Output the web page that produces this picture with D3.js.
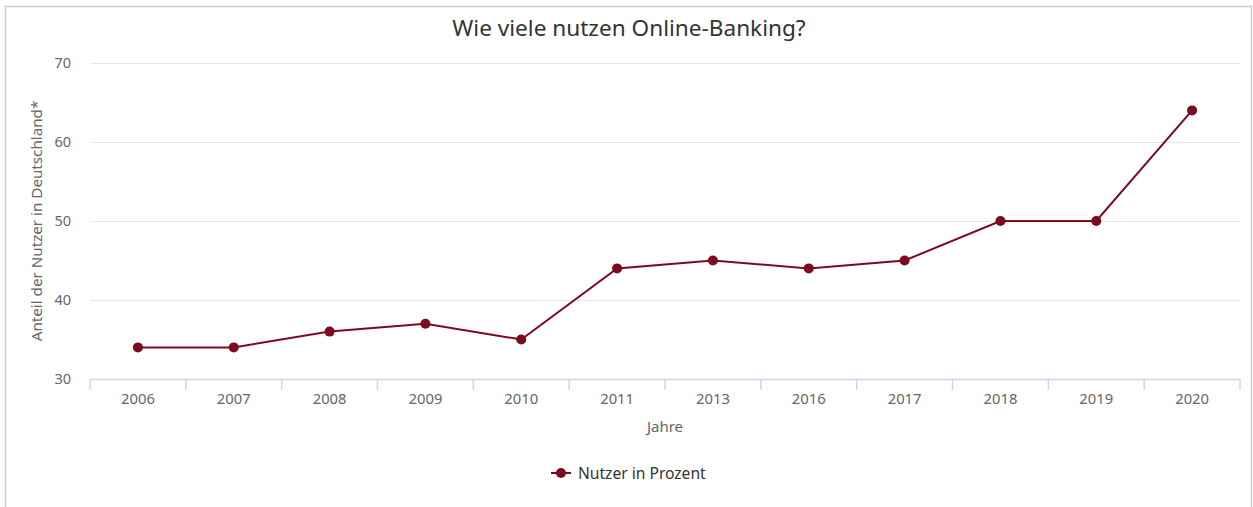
<!DOCTYPE html>
<html><head><meta charset="utf-8">
<script src="https://cdn.jsdelivr.net/npm/d3@7"></script>
<style>
html,body{margin:0;padding:0;background:#fff;}
text{font-family:"Noto Sans","Open Sans",sans-serif;}
</style></head>
<body><div id="chart"></div>
<script>
const categories = ["2006","2007","2008","2009","2010","2011","2013","2016","2017","2018","2019","2020"];
const values = [34,34,36,37,35,44,45,44,45,50,50,64];
const yTicks = [30,40,50,60,70];
const title = "Wie viele nutzen Online-Banking?";
const seriesName = "Nutzer in Prozent";
const xTitle = "Jahre";
const yTitle = "Anteil der Nutzer in Deutschland*";

const W = 1253, H = 507;
const color = "#7d0a1e";
const svg = d3.select("#chart").append("svg").attr("width", W).attr("height", H);

svg.append("rect").attr("x",5.5).attr("y",6.5).attr("width",1246).attr("height",H+10)
  .attr("fill","#fff").attr("stroke","#cccccc").attr("stroke-width",1.5);

const m = {left:90, right:1240, top:63, bottom:379};
const x = d3.scaleBand().domain(categories).range([m.left, m.right]);
const y = d3.scaleLinear().domain([30,70]).range([m.bottom, m.top]);

svg.append("text").attr("x",629).attr("y",36).attr("text-anchor","middle")
  .attr("font-size",22.6).attr("fill","#333").text(title);

// grid
svg.append("g").selectAll("line").data(yTicks.filter(d=>d>30)).join("line")
  .attr("x1",m.left).attr("x2",m.right)
  .attr("y1",d=>Math.round(y(d))+0.5).attr("y2",d=>Math.round(y(d))+0.5)
  .attr("stroke","#e6e6e6").attr("stroke-width",1);

// y axis
const yAxis = d3.axisLeft(y).tickValues(yTicks).tickSize(0).tickPadding(19);
const gy = svg.append("g").attr("transform",`translate(${m.left},0)`).call(yAxis);
gy.select(".domain").remove();
gy.selectAll("text").attr("font-size",14.5).attr("fill","#666").attr("font-family","'Noto Sans',sans-serif");

// x axis
const xAxis = d3.axisBottom(x).tickSize(0).tickPadding(14);
const gx = svg.append("g").attr("transform",`translate(0,${m.bottom})`).call(xAxis);
gx.select(".domain").attr("stroke","#ccd6eb").attr("stroke-width",1.5);
gx.selectAll("text").attr("font-size",14.8).attr("fill","#666").attr("font-family","'Noto Sans',sans-serif");
const bounds = categories.map(c=>x(c)).concat([m.right]);
svg.append("g").selectAll("line").data(bounds).join("line")
  .attr("x1",d=>d).attr("x2",d=>d).attr("y1",m.bottom).attr("y2",m.bottom+11)
  .attr("stroke","#ccd6eb").attr("stroke-width",1.5);

svg.append("text").attr("x",665).attr("y",432).attr("text-anchor","middle")
  .attr("font-size",15).attr("fill","#666").text(xTitle);
svg.append("text").attr("transform",`translate(42,221) rotate(-90)`).attr("text-anchor","middle")
  .attr("font-size",15.2).attr("fill","#666").text(yTitle);

// line
const cx = d => x(d) + x.bandwidth()/2;
const line = d3.line().x((d,i)=>cx(categories[i])).y(d=>y(d));
svg.append("path").datum(values).attr("d",line).attr("fill","none")
  .attr("stroke",color).attr("stroke-width",2);
svg.append("g").selectAll("circle").data(values).join("circle")
  .attr("cx",(d,i)=>cx(categories[i])).attr("cy",d=>y(d)).attr("r",5).attr("fill",color);

// legend
const lg = svg.append("g").attr("transform","translate(551,473)");
lg.append("line").attr("x1",0).attr("x2",20).attr("y1",0).attr("y2",0).attr("stroke",color).attr("stroke-width",2);
lg.append("circle").attr("cx",10).attr("cy",0).attr("r",5).attr("fill",color);
lg.append("text").attr("x",27).attr("y",5.5).attr("font-size",15.6).attr("fill","#333").text(seriesName);
</script></body></html>
